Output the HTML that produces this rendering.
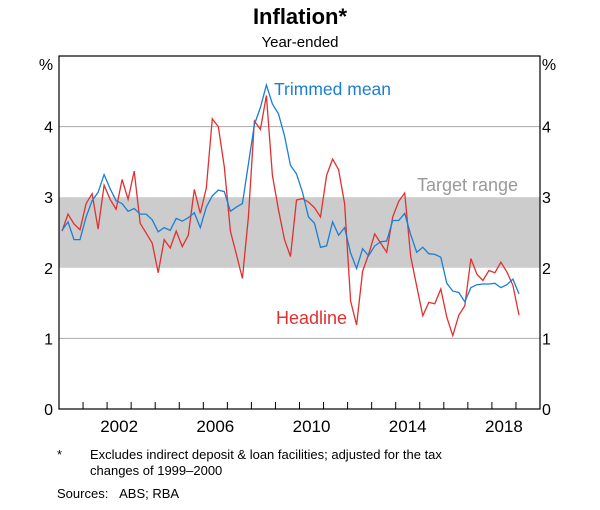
<!DOCTYPE html>
<html><head><meta charset="utf-8"><style>
body{margin:0;background:#fff;font-family:"Liberation Sans",Arial,sans-serif}
text{font-family:"Liberation Sans",Arial,sans-serif}
</style></head><body>
<svg id="chart" width="600" height="505" xmlns="http://www.w3.org/2000/svg">
<text x="300" y="24" text-anchor="middle" font-size="22" font-weight="bold">Inflation*</text>
<text x="300" y="47" text-anchor="middle" font-size="15">Year-ended</text>
<text x="46" y="70" text-anchor="middle" font-size="16">%</text>
<text x="549" y="70" text-anchor="middle" font-size="16">%</text>
<g id="plot"></g>
<text x="274" y="95" font-size="17.5" fill="#1a7fd4">Trimmed mean</text>
<text x="417" y="191" font-size="18" fill="#999">Target range</text>
<text x="276" y="324" font-size="18" fill="#e03030">Headline</text>
<text x="57" y="459" font-size="13">*</text>
<text x="90" y="459" font-size="13">Excludes indirect deposit &amp; loan facilities; adjusted for the tax</text>
<text x="90" y="475" font-size="13">changes of 1999–2000</text>
<text x="57" y="498" font-size="13">Sources:&#160;&#160;&#160;ABS; RBA</text>
</svg>
<script>
const yearTicks=[2002,2006,2010,2014,2018];
const yTicks=[0,1,2,3,4];
const gridLines=[1,4];
const targetBand=[2,3];
const startYear=2000.125;
const trimmed=[2.53,2.65,2.40,2.40,2.72,2.95,3.07,3.32,3.12,2.95,2.91,2.80,2.84,2.76,2.76,2.68,2.51,2.57,2.53,2.70,2.66,2.71,2.78,2.57,2.86,3.02,3.10,3.08,2.80,2.86,2.91,3.47,4.03,4.27,4.59,4.32,4.18,3.87,3.45,3.33,3.07,2.72,2.63,2.29,2.31,2.65,2.46,2.57,2.21,1.99,2.27,2.17,2.31,2.37,2.38,2.67,2.67,2.77,2.47,2.22,2.29,2.20,2.19,2.15,1.78,1.67,1.65,1.52,1.72,1.76,1.77,1.77,1.78,1.72,1.76,1.84,1.63];
const headline=[2.52,2.76,2.62,2.54,2.91,3.05,2.55,3.17,2.97,2.83,3.25,2.97,3.37,2.63,2.49,2.35,1.93,2.40,2.28,2.52,2.30,2.46,3.11,2.77,3.13,4.11,4.00,3.43,2.52,2.19,1.85,2.72,4.08,3.96,4.44,3.31,2.82,2.40,2.16,2.96,2.98,2.93,2.85,2.72,3.31,3.54,3.39,2.91,1.53,1.19,1.95,2.19,2.48,2.35,2.22,2.72,2.94,3.06,2.16,1.74,1.32,1.51,1.49,1.70,1.30,1.04,1.33,1.46,2.13,1.91,1.82,1.96,1.93,2.08,1.94,1.75,1.33];
const L=59,R=540,T=56,B=409;
const xs=y=>L+(y-2000)/20*(R-L);
const ys=v=>B-v/5*(B-T);
const NS='http://www.w3.org/2000/svg';
const g=document.getElementById('plot');
function mk(tag,attrs){const e=document.createElementNS(NS,tag);for(const k in attrs)e.setAttribute(k,attrs[k]);g.appendChild(e);return e;}
let band=mk('rect',{x:L,y:ys(targetBand[1]),width:R-L,height:ys(targetBand[0])-ys(targetBand[1]),fill:'#cccccc'});


gridLines.forEach(v=>{const l=mk('line',{x1:L,x2:R,y1:ys(v),y2:ys(v),stroke:'#aaa','stroke-width':1});

});
yTicks.forEach(v=>{
const a=mk('text',{x:53,y:ys(v)+6,'text-anchor':'end','font-size':16});a.textContent=v;


const b=mk('text',{x:542,y:ys(v)+6,'font-size':16});b.textContent=v;

});
for(let y=2001;y<2020;y++){const t=mk('line',{x1:xs(y),x2:xs(y),y1:B,y2:B-7,stroke:'#000','stroke-width':1});

}
yearTicks.forEach(y=>{const t=mk('text',{x:xs(y+0.5),y:B+23,'text-anchor':'middle','font-size':17});t.textContent=y;

});
function line(arr,color,name){const p=arr.map((v,i)=>xs(startYear+0.25*i).toFixed(1)+','+ys(v).toFixed(1)).join(' ');
const e=mk('polyline',{points:p,fill:'none',stroke:color,'stroke-width':1.3});

}
line(headline,'#e03030','headline-line');
line(trimmed,'#1a7fd4','trimmed-mean-line');
const f=mk('rect',{x:L,y:T,width:R-L,height:B-T,fill:'none',stroke:'#000','stroke-width':1.2});


</script>
</body></html>
